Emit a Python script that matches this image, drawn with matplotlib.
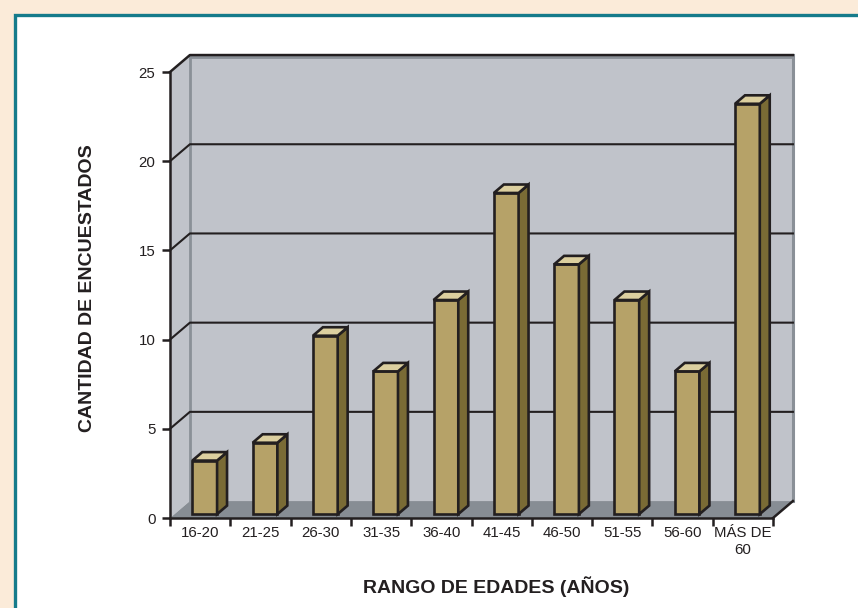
import matplotlib.pyplot as plt
from matplotlib.patches import Polygon, Rectangle

# data
categories = ['16-20', '21-25', '26-30', '31-35', '36-40', '41-45',
              '46-50', '51-55', '56-60', 'MÁS DE\n60']
counts = [3, 4, 10, 8, 12, 18, 14, 12, 8, 23]
y_ticks = [0, 5, 10, 15, 20, 25]

plt.rcParams['font.family'] = ['Liberation Sans', 'DejaVu Sans']

ink = '#231F20'
wall = '#C0C3CA'
floor_col = '#878D94'
edge_gray = '#8A9097'
bar_front = '#B6A268'
bar_side = '#7A6B35'
bar_top = '#DCCF9F'

fig = plt.figure(figsize=(8.58, 6.08), dpi=100, facecolor='#FBEBD9')
# white panel with teal frame, kept behind the axes
fig.patches.append(Rectangle((14.5 / 858, -0.05), 1.2, 1 - 14.5 / 608 + 0.05,
                             transform=fig.transFigure, facecolor='white',
                             edgecolor='#157B8B', linewidth=2.4, zorder=-10))

ax = fig.add_axes([170 / 858, 90 / 608, 603 / 858, 446 / 608])
ax.set_xlim(0, len(categories))
ax.set_ylim(0, 25)
ax.patch.set_visible(False)

n = len(categories)
top = y_ticks[-1]
DX, DY = 0.33, 0.95   # depth offset of the back wall in data units

# walls and floor
ax.add_patch(Polygon([(DX, DY), (n + DX, DY), (n + DX, top + DY), (DX, top + DY)],
                     closed=True, facecolor=wall, edgecolor='none', zorder=1, clip_on=False))
ax.add_patch(Polygon([(0, 0), (DX, DY), (DX, top + DY), (0, top)],
                     closed=True, facecolor=wall, edgecolor='none', zorder=1, clip_on=False))
ax.add_patch(Polygon([(0, 0), (n, 0), (n + DX, DY), (DX, DY)],
                     closed=True, facecolor=floor_col, edgecolor='none', zorder=1, clip_on=False))
ax.plot([DX, DX], [DY, top + DY], color=edge_gray, lw=2, zorder=2, clip_on=False)
ax.plot([n + DX, n + DX], [0 + DY, top + DY], color=edge_gray, lw=2.2, zorder=2, clip_on=False)
ax.plot([DX, n + DX], [top + DY - 0.12, top + DY - 0.12], color=edge_gray, lw=2, zorder=2, clip_on=False)
ax.plot([n, n + DX], [0, DY], color=ink, lw=1.8, zorder=3, clip_on=False)
ax.plot([0, DX, n + DX], [top, top + DY, top + DY], color=ink, lw=1.8, zorder=3, clip_on=False)

# gridlines on side and back wall
for v in y_ticks[1:-1]:
    ax.plot([0, DX, n + DX], [v, v + DY, v + DY], color=ink, lw=1.5, zorder=2, clip_on=False)

# 3d bars
W = 0.41
f0, f1 = 0.23, 0.73
ddx, ddy = (f1 - f0) * DX, (f1 - f0) * DY
for i, v in enumerate(counts):
    x0 = i + 0.5 - W / 2 + f0 * DX
    y0 = f0 * DY
    kw = dict(closed=True, edgecolor=ink, linewidth=1.9, joinstyle='miter', zorder=4, clip_on=False)
    ax.add_patch(Polygon([(x0, y0), (x0 + W, y0), (x0 + W, y0 + v), (x0, y0 + v)],
                         facecolor=bar_front, **kw))
    ax.add_patch(Polygon([(x0 + W, y0), (x0 + W + ddx, y0 + ddy),
                          (x0 + W + ddx, y0 + v + ddy), (x0 + W, y0 + v)],
                         facecolor=bar_side, **kw))
    ax.add_patch(Polygon([(x0, y0 + v), (x0 + W, y0 + v),
                          (x0 + W + ddx, y0 + v + ddy), (x0 + ddx, y0 + v + ddy)],
                         facecolor=bar_top, **kw))

# axes
for s in ['top', 'right']:
    ax.spines[s].set_visible(False)
for s in ['left', 'bottom']:
    ax.spines[s].set_color(ink)
    ax.spines[s].set_linewidth(1.8)
    ax.spines[s].set_zorder(5)

ax.set_yticks(y_ticks)
ax.set_yticklabels([str(t) for t in y_ticks])
ax.set_xticks(range(n + 1))
ax.set_xticklabels([])
ax.set_xticks([i + 0.5 for i in range(n)], minor=True)
ax.set_xticklabels(categories, minor=True)
ax.tick_params(axis='y', direction='out', length=5.5, width=1.8, color=ink,
               labelsize=10.8, labelcolor=ink, pad=5)
ax.tick_params(axis='x', which='major', direction='out', length=6, width=1.8, color=ink)
ax.tick_params(axis='x', which='minor', length=0, labelsize=10.8, labelcolor=ink, pad=6)

fig.text(88 / 858, 1 - 288 / 608, 'CANTIDAD DE ENCUESTADOS', rotation=90,
         ha='center', va='center', fontsize=14, fontweight='bold', color=ink)
fig.text(496 / 858, 1 - 587 / 608, 'RANGO DE EDADES (AÑOS)',
         ha='center', va='center', fontsize=14, fontweight='bold', color=ink)

fig.savefig('out.png', dpi=100, facecolor=fig.get_facecolor())
